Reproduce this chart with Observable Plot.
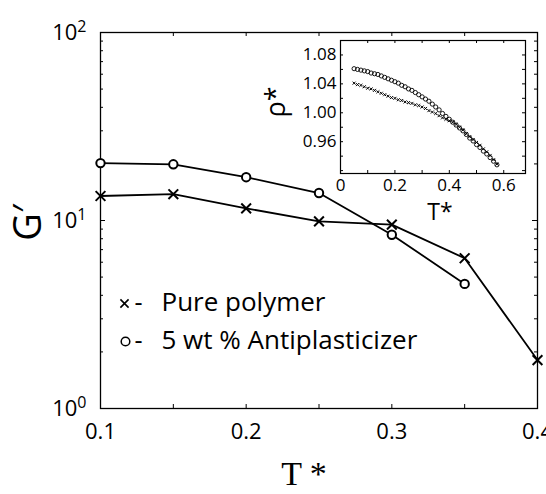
<!DOCTYPE html>
<html><head><meta charset="utf-8">
<script src="https://cdn.jsdelivr.net/npm/d3@7"></script>
<script src="https://cdn.jsdelivr.net/npm/@observablehq/plot@0.6"></script>
<style>
body{margin:0;background:#fff;}
#wrap{position:relative;width:546px;height:494px;overflow:hidden;font-family:"Open Sans",sans-serif;}
#wrap svg{position:absolute;}
</style></head><body><div id="wrap"></div>
<script>
// ---- main chart data ----
const pureT = [0.1, 0.15, 0.2, 0.25, 0.3, 0.35, 0.4];
const pureG = [13.5, 13.8, 11.6, 9.9, 9.5, 6.3, 1.81];
const antiT = [0.1, 0.15, 0.2, 0.25, 0.3, 0.35];
const antiG = [20.2, 19.9, 17.0, 14.0, 8.4, 4.6];
const xTickLabels = [0.1, 0.2, 0.3, 0.4];
const xTickMarks = [0.15, 0.2, 0.25, 0.3, 0.35];
const yMajor = [1, 10, 100];
const yMinor = [2, 3, 4, 5, 6, 7, 8, 9, 20, 30, 40, 50, 60, 70, 80, 90];
const legendLabels = ["Pure polymer", "5 wt % Antiplasticizer"];

// ---- inset data ----
const insetT = [0.05, 0.0625, 0.075, 0.0875, 0.1, 0.1125, 0.125, 0.1375, 0.15, 0.1625, 0.175, 0.1875,
  0.2, 0.2125, 0.225, 0.2375, 0.25, 0.2625, 0.275, 0.2875, 0.3, 0.3125, 0.325, 0.3375, 0.35, 0.3625,
  0.375, 0.3875, 0.4, 0.4125, 0.425, 0.4375, 0.45, 0.4625, 0.475, 0.4875, 0.5, 0.5125, 0.525, 0.5375,
  0.55, 0.5625, 0.575];
const insetAnti = [1.061, 1.060, 1.059, 1.058, 1.057, 1.055, 1.054, 1.053, 1.051, 1.049, 1.047, 1.045,
  1.043, 1.041, 1.038, 1.036, 1.033, 1.031, 1.028, 1.025, 1.022, 1.019, 1.016, 1.012, 1.008, 1.004,
  0.999, 0.995, 0.991, 0.987, 0.983, 0.979, 0.975, 0.970, 0.965, 0.961, 0.956, 0.952, 0.947, 0.943,
  0.938, 0.933, 0.928];
const insetPure = [1.041, 1.039, 1.038, 1.036, 1.034, 1.033, 1.031, 1.029, 1.027, 1.025, 1.023, 1.021,
  1.020, 1.018, 1.017, 1.015, 1.014, 1.013, 1.011, 1.010, 1.008, 1.006, 1.003, 1.001, 0.999, 0.996,
  0.993, 0.991, 0.989, 0.987, 0.984, 0.980, 0.976, 0.971, 0.967, 0.963, 0.959, 0.955, 0.950, 0.946,
  0.941, 0.935, 0.929];
const insetXLabels = [0, 0.2, 0.4, 0.6];
const insetXMarks = [0.1, 0.2, 0.3, 0.4, 0.5, 0.6];
const insetYLabels = [0.96, 1.00, 1.04, 1.08];
const insetYMarks = [0.92, 0.94, 0.96, 0.98, 1.00, 1.02, 1.04, 1.06, 1.08];

const pure = pureT.map((t, i) => ({t, g: pureG[i]}));
const anti = antiT.map((t, i) => ({t, g: antiG[i]}));
const ip = insetT.map((t, i) => ({t, r: insetPure[i]}));
const ia = insetT.map((t, i) => ({t, r: insetAnti[i]}));

const W = 546, H = 494, mL = 100, mR = 9, mT = 32, mB = 86;
const iW = W - mL - mR, iH = H - mT - mB;
const FONT = '"Open Sans", sans-serif';

const main = Plot.plot({
  width: W, height: H, marginLeft: mL, marginRight: mR, marginTop: mT, marginBottom: mB,
  style: {fontFamily: FONT, background: "transparent", color: "#000", overflow: "visible"},
  x: {domain: [0.1, 0.4], label: null},
  y: {type: "log", domain: [1, 100], label: null},
  marks: [
    Plot.frame({stroke: "#000", strokeWidth: 1.3}),
    Plot.tickX(xTickMarks, {x: d => d, insetTop: iH - 4, stroke: "#000"}),
    Plot.tickX(xTickMarks, {x: d => d, insetBottom: iH - 4, stroke: "#000"}),
    Plot.tickY(yMinor, {y: d => d, insetRight: iW - 3, stroke: "#000"}),
    Plot.tickY(yMinor, {y: d => d, insetLeft: iW - 3, stroke: "#000"}),
    Plot.tickY([10], {y: d => d, insetRight: iW - 5, stroke: "#000"}),
    Plot.tickY([10], {y: d => d, insetLeft: iW - 5, stroke: "#000"}),
    Plot.axisX({ticks: xTickLabels, tickSize: 0, tickPadding: 15, fontSize: 22, label: null, tickFormat: d => d.toFixed(1)}),
    Plot.axisY({ticks: yMajor, tickSize: 0, tickPadding: 14, fontSize: 22, label: null, tickFormat: d => String(Math.round(Math.log10(d)))}),
    Plot.line(pure, {x: "t", y: "g", stroke: "#000", strokeWidth: 1.8}),
    Plot.line(anti, {x: "t", y: "g", stroke: "#000", strokeWidth: 1.8}),
    Plot.dot(pure, {x: "t", y: "g", symbol: "times", r: 4.5, stroke: "#000", strokeWidth: 2}),
    Plot.dot(anti, {x: "t", y: "g", symbol: "circle", r: 4.2, stroke: "#000", strokeWidth: 2, fill: "#fff"}),
    Plot.text(["T *"], {frameAnchor: "bottom", dx: -15, dy: 66, fontSize: 34, lineAnchor: "middle", textAnchor: "middle", fontFamily: '"Liberation Serif", serif', text: d => d}),
    Plot.text(["G\u2032"], {frameAnchor: "left", dx: -72, dy: 2, rotate: -90, fontSize: 38, lineAnchor: "middle", textAnchor: "middle", text: d => d}),
    // legend
    Plot.dot([legendLabels[0]], {frameAnchor: "top-left", dx: 24, dy: 271, symbol: "times", r: 3.8, stroke: "#000", strokeWidth: 1.6}),
    Plot.dot([legendLabels[1]], {frameAnchor: "top-left", dx: 25, dy: 309, symbol: "circle", r: 4.3, stroke: "#000", strokeWidth: 1.5}),
    Plot.text(["-"], {frameAnchor: "top-left", dx: 34, dy: 270, fontSize: 25, lineAnchor: "middle", textAnchor: "start", text: d => d}),
    Plot.text(["-"], {frameAnchor: "top-left", dx: 34, dy: 308, fontSize: 25, lineAnchor: "middle", textAnchor: "start", text: d => d}),
    Plot.text([legendLabels[0]], {frameAnchor: "top-left", dx: 61, dy: 270, fontSize: 26, lineAnchor: "middle", textAnchor: "start", text: d => d}),
    Plot.text([legendLabels[1]], {frameAnchor: "top-left", dx: 61, dy: 308, fontSize: 26, lineAnchor: "middle", textAnchor: "start", text: d => d})
  ]
});
main.style.left = "0px"; main.style.top = "0px";

// superscript exponents on log axis labels
main.querySelectorAll('g[aria-label="y-axis tick label"] text').forEach(t => {
  const k = t.textContent;
  t.textContent = "10";
  const s = document.createElementNS("http://www.w3.org/2000/svg", "tspan");
  s.setAttribute("dy", "-0.5em");
  s.setAttribute("font-size", "16");
  s.textContent = k;
  t.appendChild(s);
});

const inset = Plot.plot({
  width: 280, height: 195, marginLeft: 90, marginRight: 5, marginTop: 10, marginBottom: 52,
  style: {fontFamily: FONT, background: "transparent", color: "#000", overflow: "visible"},
  x: {domain: [0, 0.68], label: null},
  y: {domain: [0.916, 1.10], label: null},
  marks: [
    Plot.frame({fill: "#fff", stroke: "#000", strokeWidth: 1.2}),
    Plot.tickX(insetXMarks, {x: d => d, insetTop: 133 - 3, stroke: "#000"}),
    Plot.tickX(insetXMarks, {x: d => d, insetBottom: 133 - 3, stroke: "#000"}),
    Plot.tickY(insetYMarks, {y: d => d, insetRight: 185 - 3, stroke: "#000"}),
    Plot.tickY(insetYMarks, {y: d => d, insetLeft: 185 - 3, stroke: "#000"}),
    Plot.axisX({ticks: insetXLabels, tickSize: 0, tickPadding: 5, fontSize: 17, label: null, tickFormat: d => d === 0 ? "0" : d.toFixed(1)}),
    Plot.axisY({ticks: insetYLabels, tickSize: 0, tickPadding: 4, fontSize: 17, label: null, tickFormat: d => d.toFixed(2)}),
    Plot.dot(ip, {x: "t", y: "r", symbol: "times", r: 1.5, stroke: "#000", strokeWidth: 1}),
    Plot.dot(ia, {x: "t", y: "r", symbol: "circle", r: 2.1, stroke: "#000", strokeWidth: 0.9}),
    Plot.text(["T*"], {frameAnchor: "bottom", dx: 7, dy: 39, fontSize: 23, lineAnchor: "middle", textAnchor: "middle", text: d => d}),
    Plot.text(["\u03C1*"], {frameAnchor: "left", dx: -64, dy: -5, rotate: -90, fontSize: 27, lineAnchor: "middle", textAnchor: "middle", text: d => d})
  ]
});
inset.style.left = "250px"; inset.style.top = "30px";

const wrap = document.getElementById("wrap");
wrap.appendChild(main);
wrap.appendChild(inset);
</script></body></html>
